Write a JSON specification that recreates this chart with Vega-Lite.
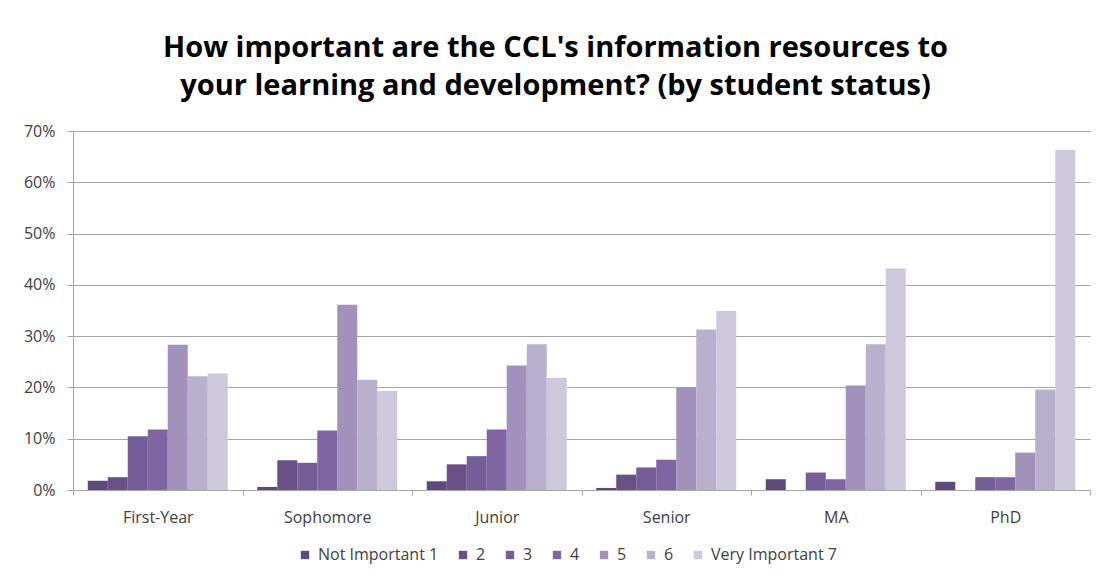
{
  "$schema": "https://vega.github.io/schema/vega-lite/v6.json",
  "width": 1017,
  "height": 359,
  "autosize": {"type": "none"},
  "padding": {"left": 73, "top": 131, "right": 18, "bottom": 88},
  "background": "white",
  "title": {
    "text": ["How important are the CCL's information resources to", "your learning and development? (by student status)"],
    "font": "Open Sans",
    "fontSize": 29,
    "fontWeight": "bold",
    "color": "#000000",
    "anchor": "middle",
    "frame": "group",
    "dx": -26,
    "offset": 22,
    "lineHeight": 38
  },
  "data": {
    "values": [
      {"status": "First-Year", "rating": "Not Important 1", "pct": 0.018},
      {"status": "First-Year", "rating": "2", "pct": 0.025},
      {"status": "First-Year", "rating": "3", "pct": 0.105},
      {"status": "First-Year", "rating": "4", "pct": 0.118},
      {"status": "First-Year", "rating": "5", "pct": 0.283},
      {"status": "First-Year", "rating": "6", "pct": 0.222},
      {"status": "First-Year", "rating": "Very Important 7", "pct": 0.227},
      {"status": "Sophomore", "rating": "Not Important 1", "pct": 0.006},
      {"status": "Sophomore", "rating": "2", "pct": 0.058},
      {"status": "Sophomore", "rating": "3", "pct": 0.053},
      {"status": "Sophomore", "rating": "4", "pct": 0.116},
      {"status": "Sophomore", "rating": "5", "pct": 0.361},
      {"status": "Sophomore", "rating": "6", "pct": 0.215},
      {"status": "Sophomore", "rating": "Very Important 7", "pct": 0.193},
      {"status": "Junior", "rating": "Not Important 1", "pct": 0.017},
      {"status": "Junior", "rating": "2", "pct": 0.050},
      {"status": "Junior", "rating": "3", "pct": 0.066},
      {"status": "Junior", "rating": "4", "pct": 0.118},
      {"status": "Junior", "rating": "5", "pct": 0.243},
      {"status": "Junior", "rating": "6", "pct": 0.284},
      {"status": "Junior", "rating": "Very Important 7", "pct": 0.219},
      {"status": "Senior", "rating": "Not Important 1", "pct": 0.004},
      {"status": "Senior", "rating": "2", "pct": 0.030},
      {"status": "Senior", "rating": "3", "pct": 0.044},
      {"status": "Senior", "rating": "4", "pct": 0.059},
      {"status": "Senior", "rating": "5", "pct": 0.201},
      {"status": "Senior", "rating": "6", "pct": 0.313},
      {"status": "Senior", "rating": "Very Important 7", "pct": 0.349},
      {"status": "MA", "rating": "Not Important 1", "pct": 0.021},
      {"status": "MA", "rating": "2", "pct": 0.0},
      {"status": "MA", "rating": "3", "pct": 0.034},
      {"status": "MA", "rating": "4", "pct": 0.021},
      {"status": "MA", "rating": "5", "pct": 0.204},
      {"status": "MA", "rating": "6", "pct": 0.284},
      {"status": "MA", "rating": "Very Important 7", "pct": 0.432},
      {"status": "PhD", "rating": "Not Important 1", "pct": 0.016},
      {"status": "PhD", "rating": "2", "pct": 0.0},
      {"status": "PhD", "rating": "3", "pct": 0.025},
      {"status": "PhD", "rating": "4", "pct": 0.025},
      {"status": "PhD", "rating": "5", "pct": 0.073},
      {"status": "PhD", "rating": "6", "pct": 0.196},
      {"status": "PhD", "rating": "Very Important 7", "pct": 0.663}
    ]
  },
  "mark": {"type": "bar", "cornerRadius": 0},
  "encoding": {
    "x": {
      "field": "status",
      "type": "nominal",
      "sort": ["First-Year", "Sophomore", "Junior", "Senior", "MA", "PhD"],
      "scale": {"paddingInner": 0, "paddingOuter": 0},
      "axis": {
        "title": null,
        "labelAngle": 0,
        "labelFont": "Open Sans",
        "labelFontSize": 16,
        "labelColor": "#404040",
        "labelPadding": 14,
        "tickBand": "extent",
        "tickSize": 5,
        "tickColor": "#a6a6a6",
        "domainColor": "#a6a6a6",
        "grid": false
      }
    },
    "xOffset": {
      "field": "rating",
      "type": "nominal",
      "sort": ["Not Important 1", "2", "3", "4", "5", "6", "Very Important 7"],
      "scale": {"paddingInner": 0, "paddingOuter": 0.7375}
    },
    "y": {
      "field": "pct",
      "type": "quantitative",
      "scale": {"domain": [0, 0.7]},
      "axis": {
        "title": null,
        "format": ".0%",
        "values": [0, 0.1, 0.2, 0.3, 0.4, 0.5, 0.6, 0.7],
        "labelFont": "Open Sans",
        "labelFontSize": 16,
        "labelColor": "#404040",
        "labelPadding": 12,
        "tickSize": 6,
        "tickColor": "#a6a6a6",
        "domainColor": "#a6a6a6",
        "gridColor": "#a6a6a6",
        "gridWidth": 1
      }
    },
    "color": {
      "field": "rating",
      "type": "nominal",
      "sort": ["Not Important 1", "2", "3", "4", "5", "6", "Very Important 7"],
      "scale": {
        "domain": ["Not Important 1", "2", "3", "4", "5", "6", "Very Important 7"],
        "range": ["#5e4a7c", "#6b5088", "#755d97", "#8065a3", "#a191bb", "#b9b0cd", "#cdc8dc"]
      },
      "legend": {
        "title": null,
        "orient": "none",
        "direction": "horizontal",
        "legendX": 224,
        "legendY": 416,
        "symbolType": "square",
        "symbolSize": 70,
        "symbolStrokeWidth": 0,
        "labelFont": "Open Sans",
        "labelFontSize": 16,
        "labelColor": "#404040",
        "labelOffset": 5,
        "columnPadding": 16
      }
    }
  },
  "config": {
    "view": {"stroke": null}
  }
}
